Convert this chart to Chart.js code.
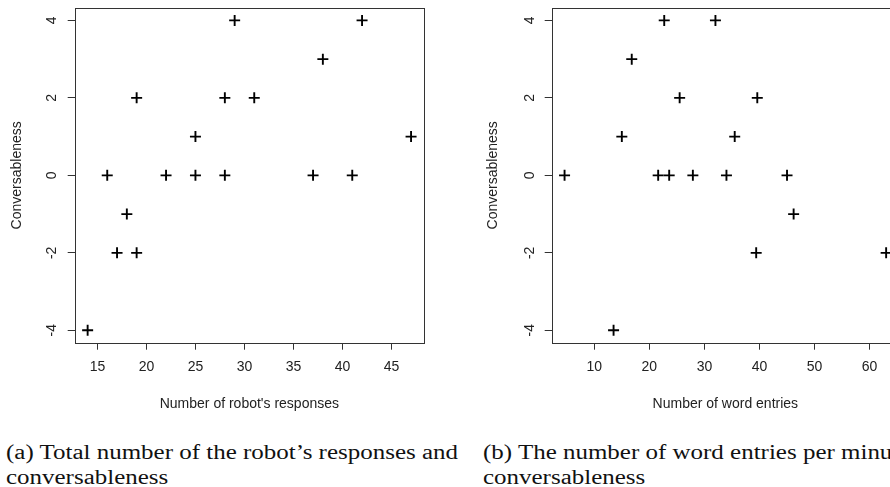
<!DOCTYPE html>
<html>
<head>
<meta charset="utf-8">
<script src="https://cdn.jsdelivr.net/npm/chart.js@4.4.1/dist/chart.umd.min.js"></script>
<style>
  html, body { margin: 0; padding: 0; background: #fff; }
  body { width: 890px; height: 487px; overflow: hidden; position: relative; }
  canvas { position: absolute; top: 0; }
  #left { left: 0; }
  #right { left: 470px; }
  .cap { position: absolute; font-family: "Liberation Serif", serif; font-size: 20px; line-height: 25px;
         color: #111; white-space: nowrap; transform-origin: 0 0; }
</style>
</head>
<body>
<canvas id="left" width="440" height="420"></canvas>
<canvas id="right" width="460" height="420"></canvas>
<div class="cap" id="capA" style="left:6px; top:440px"><span id="capLine">(a) Total number of the robot’s responses and</span><br>conversableness</div>
<div class="cap" id="capB" style="left:483px; top:440px">(b) The number of word entries per minute and<br>conversableness</div>
<script>
// (a) robot's responses vs conversableness
const responses = [14, 16, 17, 18, 19, 19, 22, 25, 25, 28, 28, 29, 31, 37, 38, 41, 42, 47];
const convA     = [-4,  0, -2, -1,  2, -2,  0,  1,  0,  2,  0,  4,  2,  0,  3,  0,  4,  1];

// (b) word entries per minute vs conversableness
const wordEntries = [4.6, 13.5, 15.0, 16.8, 21.6, 22.7, 23.6, 25.5, 27.9, 32.0, 34.0, 35.5, 39.4, 39.6, 45.0, 46.2, 63.0];
const convB       = [0,   -4,   1,    3,    0,    4,    0,    2,    0,    4,    0,    1,    -2,   2,    0,    -1,   -2];

const xTicksA = [15, 20, 25, 30, 35, 40, 45];
const xTicksB = [10, 20, 30, 40, 50, 60];
const yTicks  = [-4, -2, 0, 2, 4];

const ink = '#222';
const sans = '"Liberation Sans", Arial, sans-serif';

// R style range: data range extended by 4% each side
function rRange(v) {
  const lo = Math.min(...v), hi = Math.max(...v);
  const d = (hi - lo) * 0.04;
  return [lo - d, hi + d];
}

const boxPlugin = {
  id: 'box',
  afterDraw(chart) {
    const a = chart.chartArea, ctx = chart.ctx;
    ctx.save();
    ctx.strokeStyle = '#333';
    ctx.lineWidth = 1;
    ctx.strokeRect(Math.round(a.left) + 0.5, Math.round(a.top) + 0.5,
      Math.round(a.right - a.left), Math.round(a.bottom - a.top));
    ctx.restore();
  }
};

function makeChart(id, xs, ys, xTicks, xTitle, opts) {
  const [xmin, xmax] = rRange(xs);
  const [ymin, ymax] = rRange(ys);
  return new Chart(document.getElementById(id), {
    type: 'scatter',
    data: {
      datasets: [{
        data: xs.map((x, i) => ({ x: x, y: ys[i] })),
        pointStyle: 'cross',
        pointRadius: 5.5,
        pointHoverRadius: 5.5,
        borderWidth: 1.9,
        borderColor: '#000',
        backgroundColor: '#000'
      }]
    },
    options: {
      responsive: false,
      animation: false,
      events: [],
      layout: { padding: { top: 8, right: opts.padRight, left: 0, bottom: 0 } },
      plugins: { legend: { display: false }, tooltip: { enabled: false } },
      scales: {
        x: {
          type: 'linear',
          min: xmin, max: xmax,
          afterBuildTicks: s => { s.ticks = xTicks.map(v => ({ value: v })); },
          afterFit: s => { s.height = 77.3; s.paddingLeft = 0; s.paddingRight = 0; },
          border: { display: false },
          grid: { drawOnChartArea: false, drawTicks: true, tickLength: 7, tickColor: '#333', tickWidth: 1 },
          ticks: { color: ink, font: { family: sans, size: 14 }, padding: 9, maxRotation: 0 },
          title: { display: true, text: xTitle, color: ink, font: { family: sans, size: 14 }, padding: { top: 0, bottom: 7.5 } }
        },
        y: {
          type: 'linear',
          min: ymin, max: ymax,
          afterBuildTicks: s => { s.ticks = yTicks.map(v => ({ value: v })); },
          afterFit: s => { s.width = opts.yWidth; s.paddingTop = 0; s.paddingBottom = 0; },
          border: { display: false },
          grid: { drawOnChartArea: false, drawTicks: true, tickLength: 7, tickColor: '#333', tickWidth: 1 },
          ticks: { color: ink, font: { family: sans, size: 14 }, minRotation: 90, maxRotation: 90,
                   crossAlign: 'center', padding: opts.yTickPad },
          title: { display: true, text: 'Conversableness', color: ink, font: { family: sans, size: 14 },
                   padding: { top: opts.yTitlePad, bottom: 0 } }
        }
      }
    },
    plugins: [boxPlugin]
  });
}

makeChart('left', responses, convA, xTicksA, "Number of robot's responses",
  { yWidth: 74.7, padRight: 16, yTickPad: 9, yTitlePad: 8.6 });
makeChart('right', wordEntries, convB, xTicksB, 'Number of word entries',
  { yWidth: 81.7, padRight: 31, yTickPad: 8, yTitlePad: 14.6 });

// widen the serif captions to the width of the Computer Modern original
const lineW = document.getElementById('capLine').getBoundingClientRect().width;
const sx = 452 / lineW;
document.getElementById('capA').style.transform = 'scaleX(' + sx + ')';
document.getElementById('capB').style.transform = 'scaleX(' + sx + ')';
</script>
</body>
</html>
